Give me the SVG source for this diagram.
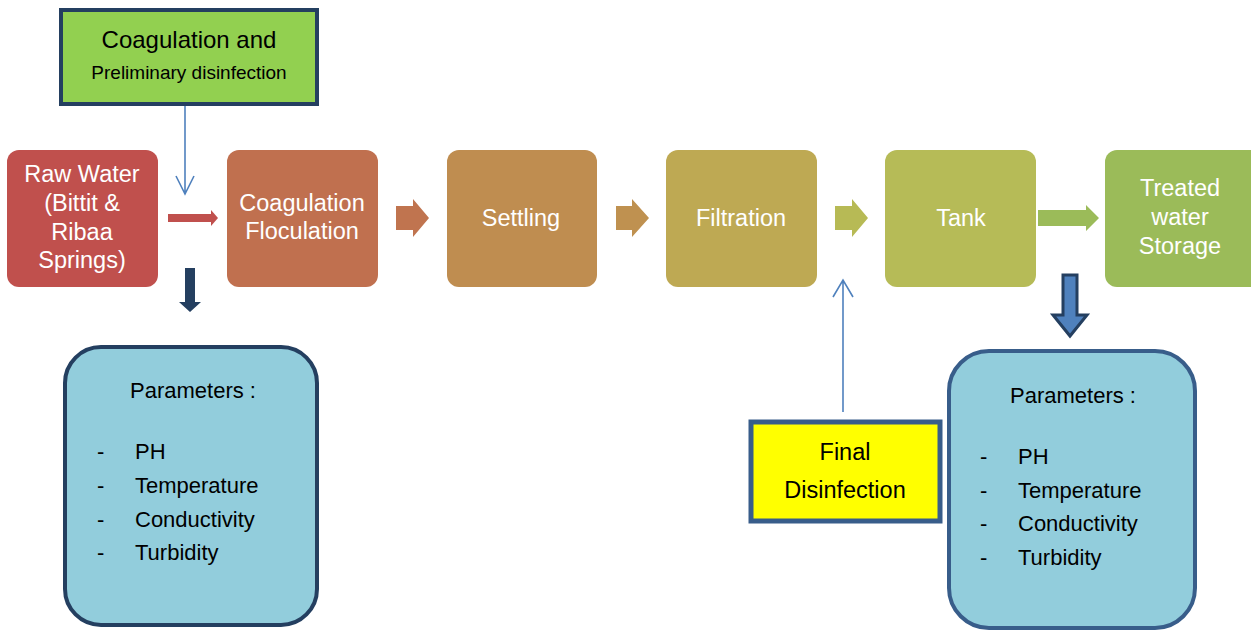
<svg xmlns="http://www.w3.org/2000/svg" width="1251" height="632" viewBox="0 0 1251 632">
<style>
.wt{font-family:"Liberation Sans",Arial,sans-serif;fill:#ffffff;font-size:23.5px;text-anchor:middle}
.bk{font-family:"Liberation Sans",Arial,sans-serif;fill:#000000}
.p{font-size:22px}
.par{fill:#92CDDC;stroke-width:4}
.thin{fill:none;stroke:#4F81BD;stroke-width:1.6}
</style>
<rect width="1251" height="632" fill="#ffffff"/>
<g id="connectors">
  <path d="M185,106 V194 M176,176 L185,194 L194,176" class="thin"/>
  <path d="M843,412 V280 M833,297 L843,280 L853,297" class="thin"/>
  <polygon points="168,214 211,214 211,210 218,218 211,226 211,222 168,222" fill="#C0504D"/>
  <polygon points="396,206 413,206 413,199 429,218 413,237 413,230 396,230" fill="#C0744F"/>
  <polygon points="616,206 632,206 632,199 649,218 632,237 632,230 616,230" fill="#BF9150"/>
  <polygon points="835,206 852,206 852,199 868,218 852,237 852,230 835,230" fill="#B7BA55"/>
  <polygon points="1038,210 1086,210 1086,205 1099,218 1086,231 1086,226 1038,226" fill="#9BBB59"/>
  <polygon points="185,268 195,268 195,302 201,302 190,312 179,302 185,302" fill="#243F60"/>
  <polygon points="1063,275 1077,275 1077,315 1087,315 1070,336 1053,315 1063,315" fill="#4F81BD" stroke="#243F60" stroke-width="3"/>
</g>
<g id="top-box">
  <rect x="61" y="10" width="256" height="94" fill="#92D050" stroke="#243F60" stroke-width="4"/>
  <text class="bk" x="189" y="48" font-size="24" text-anchor="middle">Coagulation and</text>
  <text class="bk" x="189" y="79" font-size="19" text-anchor="middle">Preliminary disinfection</text>
</g>
<g id="raw-water">
  <rect x="7" y="150" width="151" height="137" rx="12" fill="#C0504D"/>
  <text class="wt" x="82" y="182">Raw Water</text>
  <text class="wt" x="82" y="211">(Bittit &amp;</text>
  <text class="wt" x="82" y="240">Ribaa</text>
  <text class="wt" x="82" y="268">Springs)</text>
</g>
<g id="coagulation">
  <rect x="227" y="150" width="151" height="137" rx="12" fill="#C0704F"/>
  <text class="wt" x="302" y="211">Coagulation</text>
  <text class="wt" x="302" y="239">Floculation</text>
</g>
<g id="settling">
  <rect x="447" y="150" width="150" height="137" rx="12" fill="#BF8D50"/>
  <text class="wt" x="521" y="226">Settling</text>
</g>
<g id="filtration">
  <rect x="666" y="150" width="151" height="137" rx="12" fill="#BEA953"/>
  <text class="wt" x="741" y="226">Filtration</text>
</g>
<g id="tank">
  <rect x="885" y="150" width="151" height="137" rx="12" fill="#B6BB57"/>
  <text class="wt" x="961" y="226">Tank</text>
</g>
<g id="treated">
  <rect x="1105" y="150" width="160" height="137" rx="12" fill="#9BBB59"/>
  <text class="wt" x="1180" y="196">Treated</text>
  <text class="wt" x="1180" y="225">water</text>
  <text class="wt" x="1180" y="254">Storage</text>
</g>
<g id="params-left">
  <rect x="65" y="347" width="252" height="278" rx="36" class="par" stroke="#243F60"/>
  <text class="bk p" x="130" y="398">Parameters :</text>
  <text class="bk p" x="97" y="459">-</text><text class="bk p" x="135" y="459">PH</text>
  <text class="bk p" x="97" y="493">-</text><text class="bk p" x="135" y="493">Temperature</text>
  <text class="bk p" x="97" y="527">-</text><text class="bk p" x="135" y="527">Conductivity</text>
  <text class="bk p" x="97" y="560">-</text><text class="bk p" x="135" y="560">Turbidity</text>
</g>
<g id="final-disinfection">
  <rect x="751" y="422" width="189" height="99" fill="#FFFF00" stroke="#385D8A" stroke-width="5"/>
  <text class="bk" x="845" y="460" font-size="23.5" text-anchor="middle">Final</text>
  <text class="bk" x="845" y="498" font-size="23.5" text-anchor="middle">Disinfection</text>
</g>
<g id="params-right">
  <rect x="949" y="351" width="246" height="277" rx="40" class="par" stroke="#385D8A"/>
  <text class="bk p" x="1010" y="403">Parameters :</text>
  <text class="bk p" x="980" y="464">-</text><text class="bk p" x="1018" y="464">PH</text>
  <text class="bk p" x="980" y="498">-</text><text class="bk p" x="1018" y="498">Temperature</text>
  <text class="bk p" x="980" y="531">-</text><text class="bk p" x="1018" y="531">Conductivity</text>
  <text class="bk p" x="980" y="565">-</text><text class="bk p" x="1018" y="565">Turbidity</text>
</g>
</svg>
